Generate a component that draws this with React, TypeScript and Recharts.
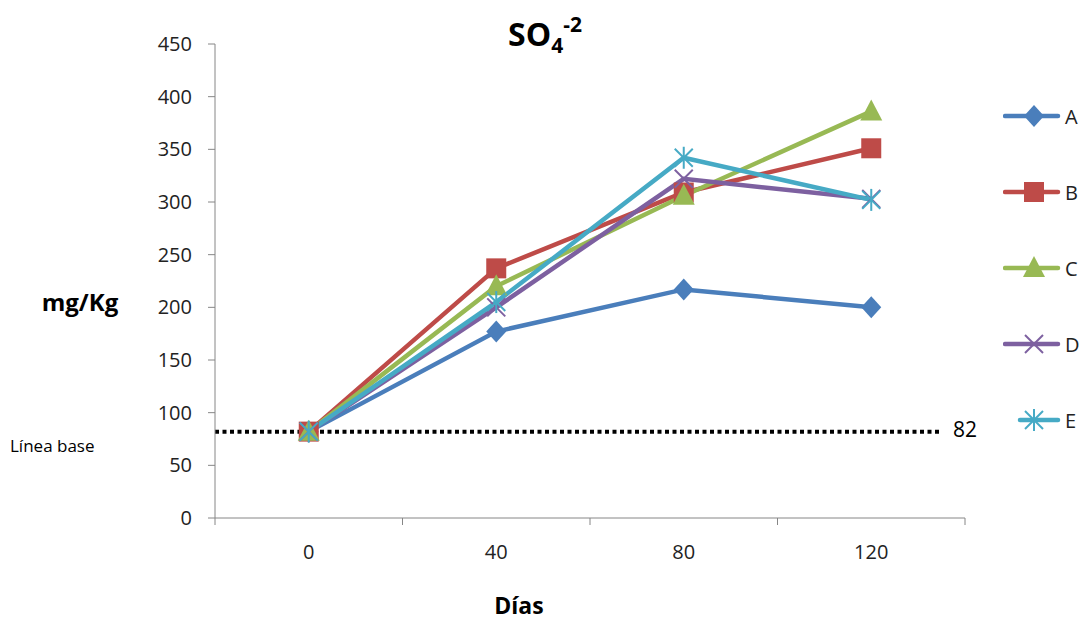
import React from "react";
import {
  LineChart,
  Line,
  XAxis,
  YAxis,
  Legend,
  ReferenceLine,
  Label,
  Customized,
} from "recharts";

const dias = [0, 40, 80, 120];
const marcasX = [-20, 20, 60, 100, 140];
const serieA = [82, 177, 217, 200];
const serieB = [82, 237, 309, 351];
const serieC = [82, 220, 306, 386];
const serieD = [82, 200, 322, 303];
const serieE = [82, 205, 342, 302];
const ticksY = [0, 50, 100, 150, 200, 250, 300, 350, 400, 450];
const lineaBase = 82;
const finLineaBase = 135;

const FONT = "'Open Sans', sans-serif";

const series = [
  { key: "A", color: "#4A7EBB", marker: "diamond" },
  { key: "B", color: "#BE4B48", marker: "square" },
  { key: "C", color: "#98B954", marker: "triangle" },
  { key: "D", color: "#7D60A0", marker: "x" },
  { key: "E", color: "#46AAC5", marker: "star" },
];

const data = dias.map((d, i) => ({
  dia: d,
  A: serieA[i],
  B: serieB[i],
  C: serieC[i],
  D: serieD[i],
  E: serieE[i],
}));

const Marker = ({ cx, cy, type, color }: any) => {
  if (cx == null || cy == null) return null;
  switch (type) {
    case "diamond":
      return (
        <polygon
          points={`${cx},${cy - 11} ${cx + 10},${cy} ${cx},${cy + 11} ${cx - 10},${cy}`}
          fill={color}
        />
      );
    case "square":
      return <rect x={cx - 10} y={cy - 10} width={20} height={20} fill={color} />;
    case "triangle":
      return (
        <polygon
          points={`${cx},${cy - 12} ${cx + 11},${cy + 9} ${cx - 11},${cy + 9}`}
          fill={color}
        />
      );
    case "x":
      return (
        <g stroke={color} strokeWidth={2}>
          <line x1={cx - 9} y1={cy - 9} x2={cx + 9} y2={cy + 9} />
          <line x1={cx - 9} y1={cy + 9} x2={cx + 9} y2={cy - 9} />
        </g>
      );
    case "star":
      return (
        <g stroke={color} strokeWidth={2}>
          <line x1={cx - 9} y1={cy - 9} x2={cx + 9} y2={cy + 9} />
          <line x1={cx - 9} y1={cy + 9} x2={cx + 9} y2={cy - 9} />
          <line x1={cx} y1={cy - 11} x2={cx} y2={cy + 11} />
        </g>
      );
    default:
      return null;
  }
};

const XTick = ({ x, y, payload }: any) => {
  const v = payload.value;
  if (dias.includes(v)) {
    return (
      <text x={x} y={y + 41} textAnchor="middle" fontSize={20} fill="#222" fontFamily={FONT}>
        {v}
      </text>
    );
  }
  return <line x1={x} y1={y} x2={x} y2={y + 7} stroke="#868686" strokeWidth={1} />;
};

const renderLegend = () => (
  <div style={{ fontFamily: FONT, fontSize: 20, color: "#222" }}>
    {series.map((s) => (
      <div key={s.key} style={{ height: 76, display: "flex", alignItems: "center" }}>
        <svg width={60} height={26}>
          <line
            x1={s.key === "E" ? 17 : 2}
            y1={13}
            x2={55}
            y2={13}
            stroke={s.color}
            strokeWidth={4.5}
            strokeLinecap="round"
          />
          <Marker cx={31} cy={13} type={s.marker} color={s.color} />
        </svg>
        <span style={{ marginLeft: 2 }}>{s.key}</span>
      </div>
    ))}
  </div>
);

const Title = () => (
  <text x={545} y={46} textAnchor="middle" fontSize={32} fontWeight="bold" fill="#000" fontFamily={FONT}>
    SO
    <tspan dy={7} fontSize={21}>4</tspan>
    <tspan dy={-21} fontSize={21}>-2</tspan>
  </text>
);

export default function App() {
  return (
    <div style={{ position: "absolute", left: 0, top: 0, background: "#fff" }}>
      <LineChart
        width={1080}
        height={620}
        data={data}
        margin={{ top: 44, right: 115, left: 155, bottom: 62 }}
      >
        <XAxis
          dataKey="dia"
          type="number"
          domain={[-20, 140]}
          ticks={[...marcasX, ...dias].sort((a, b) => a - b)}
          interval={0}
          tick={<XTick />}
          tickLine={false}
          tickSize={0}
          tickMargin={0}
          axisLine={{ stroke: "#868686" }}
          height={40}
        >
          <Label
            content={({ viewBox }: any) => (
              <text
                x={viewBox.x + viewBox.width / 2 - 71}
                y={614}
                textAnchor="middle"
                fontSize={23}
                fontWeight="bold"
                fill="#000"
                fontFamily={FONT}
              >
                Días
              </text>
            )}
          />
        </XAxis>
        <YAxis
          type="number"
          domain={[0, 450]}
          ticks={ticksY}
          interval={0}
          width={60}
          tickSize={7}
          tickMargin={16}
          tick={{ fontSize: 20, fill: "#222", fontFamily: FONT }}
          axisLine={{ stroke: "#868686" }}
          tickLine={{ stroke: "#868686" }}
        >
          <Label
            content={() => (
              <text
                x={80}
                y={311}
                textAnchor="middle"
                fontSize={24}
                fontWeight="bold"
                fill="#000"
                fontFamily={FONT}
              >
                mg/Kg
              </text>
            )}
          />
        </YAxis>
        <ReferenceLine
          segment={[
            { x: -20, y: lineaBase },
            { x: finLineaBase, y: lineaBase },
          ]}
          stroke="#000"
          strokeWidth={4}
          strokeDasharray="4 3.5"
          label={(props: any) => {
            const vb = props.viewBox || {};
            const yy = vb.y ?? 431;
            return (
              <g fontFamily={FONT}>
                <text x={965} y={yy + 5} textAnchor="middle" fontSize={21} fill="#000">
                  {lineaBase}
                </text>
                <text x={10} y={yy + 20} fontSize={17} fill="#000">
                  Línea base
                </text>
              </g>
            );
          }}
        />
        {series.map((s) => (
          <Line
            key={s.key}
            dataKey={s.key}
            stroke={s.color}
            strokeWidth={4.5}
            isAnimationActive={false}
            dot={(p: any) => (
              <Marker key={`${s.key}-${p.index}`} cx={p.cx} cy={p.cy} type={s.marker} color={s.color} />
            )}
            activeDot={false}
          />
        ))}
        <Legend
          layout="vertical"
          align="center"
          verticalAlign="middle"
          wrapperStyle={{ left: 1003, top: 78, width: 80 }}
          content={renderLegend}
        />
        <Customized component={Title} />
      </LineChart>
    </div>
  );
}
